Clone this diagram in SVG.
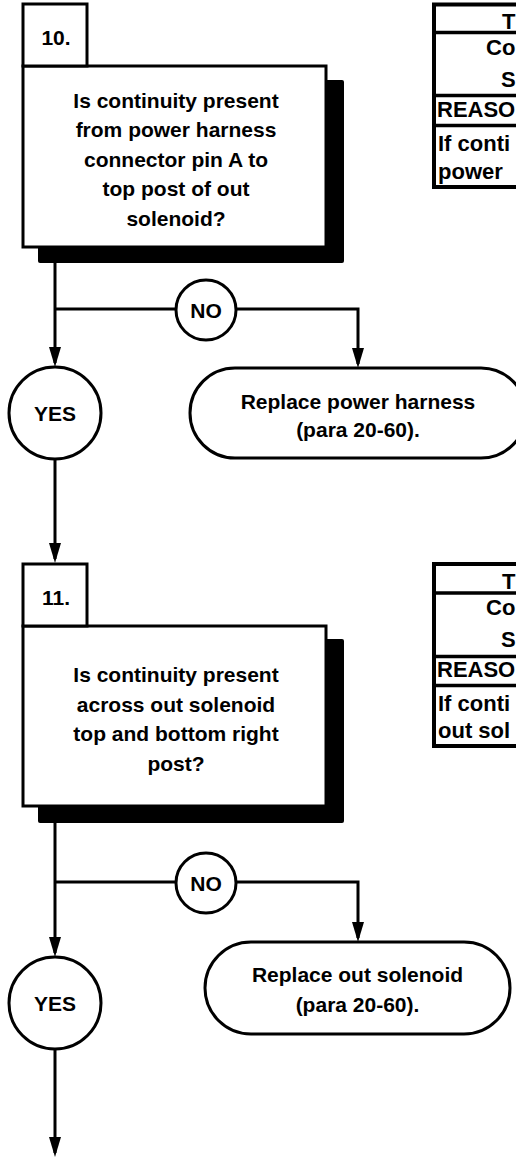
<svg xmlns="http://www.w3.org/2000/svg" width="516" height="1159" viewBox="0 0 516 1159">
<defs>
<style>
.t{font-family:"Liberation Sans",Arial,sans-serif;font-weight:bold;font-size:21px;fill:#000;text-anchor:middle}
.tb{font-family:"Liberation Sans",Arial,sans-serif;font-weight:bold;font-size:22px;fill:#000}
.box{fill:#fff;stroke:#000;stroke-width:3}
.sh{fill:#000}
.ln{fill:none;stroke:#000;stroke-width:3}
.tbl{fill:#fff;stroke:#000;stroke-width:4}
.tl{stroke:#000;stroke-width:3.5}
</style>
<marker id="ah" markerUnits="userSpaceOnUse" markerWidth="20" markerHeight="12" refX="16" refY="6" orient="auto" viewBox="0 0 20 12">
<path d="M0,0 L20,6 L0,12 z" fill="#000"/>
</marker>
</defs>
<g id="connectors">
<path class="ln" d="M55,247 V363" marker-end="url(#ah)"/>
<path class="ln" d="M55,309 H358 V364" marker-end="url(#ah)"/>
<path class="ln" d="M55,459 V559" marker-end="url(#ah)"/>
<path class="ln" d="M55,806 V953" marker-end="url(#ah)"/>
<path class="ln" d="M55,882 H358 V938" marker-end="url(#ah)"/>
<path class="ln" d="M55,1049 V1153" marker-end="url(#ah)"/>
</g>
<g id="step10">
<rect class="sh" x="38" y="80" width="306" height="183" rx="2"/>
<rect class="box" x="23" y="66" width="303" height="181"/>
<rect class="box" x="23" y="4" width="64" height="62"/>
<text class="t" x="56" y="45">10.</text>
<text class="t" x="176" y="107.5">Is continuity present</text>
<text class="t" x="176" y="137">from power harness</text>
<text class="t" x="176" y="166.5">connector pin A to</text>
<text class="t" x="176" y="196">top post of out</text>
<text class="t" x="176" y="225.5">solenoid?</text>
</g>
<g id="table10">
<rect class="tbl" x="434" y="4.5" width="120" height="182.5"/>
<line class="tl" x1="434" y1="32.5" x2="516" y2="32.5"/>
<line class="tl" x1="434" y1="95.5" x2="516" y2="95.5"/>
<line class="tl" x1="434" y1="125.5" x2="516" y2="125.5"/>
<text class="tb" x="502" y="29">T</text>
<text class="tb" x="486" y="55">Co</text>
<text class="tb" x="501" y="87">S</text>
<text class="tb" x="437" y="117">REASO</text>
<text class="tb" x="438" y="151">If conti</text>
<text class="tb" x="438" y="179">power</text>
</g>
<g id="no10">
<circle class="box" cx="206" cy="310" r="30"/>
<text class="t" x="206" y="317.5">NO</text>
</g>
<g id="yes10">
<circle class="box" cx="55" cy="413" r="46"/>
<text class="t" x="55" y="420.5">YES</text>
</g>
<g id="replace-harness">
<rect class="box" x="190" y="368" width="336" height="90" rx="45"/>
<text class="t" x="358" y="409">Replace power harness</text>
<text class="t" x="358" y="437">(para 20-60).</text>
</g>
<g id="step11">
<rect class="sh" x="38" y="639" width="306" height="184" rx="2"/>
<rect class="box" x="23" y="626" width="303" height="180"/>
<rect class="box" x="23" y="564" width="64" height="62"/>
<text class="t" x="56" y="605">11.</text>
<text class="t" x="176" y="682">Is continuity present</text>
<text class="t" x="176" y="711.5">across out solenoid</text>
<text class="t" x="176" y="741">top and bottom right</text>
<text class="t" x="176" y="770.5">post?</text>
</g>
<g id="table11">
<rect class="tbl" x="434" y="564" width="120" height="182"/>
<line class="tl" x1="434" y1="593" x2="516" y2="593"/>
<line class="tl" x1="434" y1="656.5" x2="516" y2="656.5"/>
<line class="tl" x1="434" y1="685.5" x2="516" y2="685.5"/>
<text class="tb" x="502" y="589">T</text>
<text class="tb" x="486" y="615">Co</text>
<text class="tb" x="501" y="647">S</text>
<text class="tb" x="437" y="677">REASO</text>
<text class="tb" x="438" y="711">If conti</text>
<text class="tb" x="438" y="738">out sol</text>
</g>
<g id="no11">
<circle class="box" cx="206" cy="883" r="30"/>
<text class="t" x="206" y="890.5">NO</text>
</g>
<g id="yes11">
<circle class="box" cx="55" cy="1003" r="46"/>
<text class="t" x="55" y="1010.5">YES</text>
</g>
<g id="replace-solenoid">
<rect class="box" x="205" y="942" width="305" height="92" rx="46"/>
<text class="t" x="357.5" y="982">Replace out solenoid</text>
<text class="t" x="357.5" y="1012">(para 20-60).</text>
</g>
</svg>
